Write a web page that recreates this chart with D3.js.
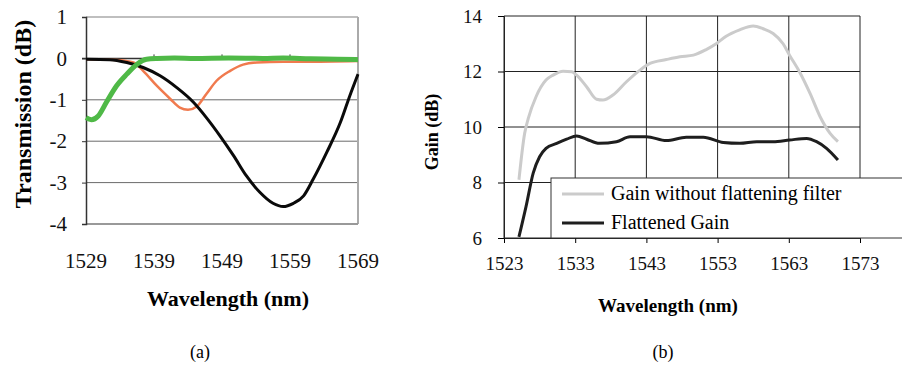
<html>
<head>
<meta charset="utf-8">
<script src="https://d3js.org/d3.v7.min.js"></script>
<style>
 body {margin:0; background:#fff;}
</style>
</head>
<body>
<svg id="chart" width="902" height="367"></svg>
<script>
// ---- panel (a) data : transmission spectra
var aTicksX = [1529, 1539, 1549, 1559, 1569];
var aTicksY = [1, 0, -1, -2, -3, -4];
var greenWl = [1529, 1529.8, 1530.8, 1532, 1533.5, 1535, 1536.5, 1537.9, 1539.4, 1542, 1545, 1550, 1555, 1558, 1562, 1566, 1569];
var greenDb = [-1.43, -1.48, -1.39, -1.06, -0.66, -0.38, -0.14, -0.02, 0.0, 0.01, 0.0, 0.01, 0.0, 0.01, -0.01, -0.02, -0.03];
var orangeWl = [1529, 1533.5, 1536, 1537.4, 1539.4, 1541.4, 1542.8, 1544.0, 1545.3, 1546.7, 1548.2, 1550.2, 1552.1, 1554.1, 1558, 1561, 1569];
var orangeDb = [-0.02, -0.04, -0.1, -0.3, -0.66, -0.98, -1.19, -1.24, -1.16, -0.86, -0.54, -0.3, -0.15, -0.1, -0.08, -0.08, -0.06];
var blackWl = [1529, 1532.5, 1535, 1537.4, 1539.9, 1542.3, 1544.8, 1546.7, 1548.7, 1550.7, 1552.6, 1554.6, 1556.5, 1558.0, 1559.5, 1561.0, 1562.4, 1564.4, 1566.4, 1567.8, 1569.0];
var blackDb = [-0.02, -0.03, -0.1, -0.22, -0.42, -0.70, -1.06, -1.43, -1.87, -2.35, -2.84, -3.24, -3.5, -3.58, -3.5, -3.32, -2.92, -2.27, -1.55, -0.9, -0.38];

// ---- panel (b) data : gain spectra
var bTicksX = [1523, 1533, 1543, 1553, 1563, 1573];
var bTicksY = [6, 8, 10, 12, 14];
var rawWl = [1525.1, 1525.9, 1526.4, 1527.5, 1528.9, 1529.9, 1531.3, 1532.5, 1533.2, 1534.6, 1536.0, 1536.9, 1538.3, 1540.2, 1542.1, 1543.5, 1545.8, 1547.7, 1549.6, 1551.4, 1552.8, 1554.2, 1556.1, 1558.0, 1559.4, 1560.8, 1562.2, 1563.1, 1564.5, 1566.0, 1567.4, 1568.8, 1569.9];
var rawGain = [8.1, 9.77, 10.3, 11.09, 11.69, 11.87, 12.01, 11.99, 11.87, 11.45, 11.0, 10.97, 11.15, 11.63, 12.05, 12.29, 12.43, 12.53, 12.59, 12.79, 13.0, 13.27, 13.5, 13.64, 13.54, 13.37, 13.0, 12.59, 11.99, 11.2, 10.37, 9.77, 9.47];
var flatWl = [1525.1, 1526.1, 1527.1, 1528.0, 1528.9, 1530.4, 1531.8, 1533.2, 1534.6, 1536.4, 1538.8, 1540.7, 1543.0, 1545.8, 1548.6, 1551.0, 1553.8, 1556.1, 1558.5, 1560.8, 1563.1, 1565.5, 1566.9, 1568.3, 1569.9];
var flatGain = [6.04, 7.14, 8.34, 8.93, 9.23, 9.41, 9.56, 9.68, 9.56, 9.41, 9.47, 9.65, 9.65, 9.51, 9.63, 9.63, 9.44, 9.41, 9.47, 9.47, 9.53, 9.59, 9.47, 9.23, 8.81];
var legendNames = ["Gain without flattening filter", "Flattened Gain"];

var serif = "'Liberation Serif', 'Times New Roman', serif";
var svg = d3.select("#chart");
function pairs(xs, ys) { return xs.map(function(x, i) { return [x, ys[i]]; }); }
function label(d) { return String(d); }   // plain hyphen for negatives, like the source

// ================= panel (a)
var ax = d3.scaleLinear().domain([1529, 1569]).range([86, 358]);
var ay = d3.scaleLinear().domain([-4, 1]).range([224, 17]);
var pa = svg.append("g");

pa.selectAll(".grid").data([-1, -2, -3]).enter().append("line")
  .attr("x1", ax(1529)).attr("x2", ax(1569))
  .attr("y1", function(d) { return ay(d); }).attr("y2", function(d) { return ay(d); })
  .attr("stroke", "#6a6a6a").attr("stroke-width", 1);
// plot area frame
pa.append("line").attr("x1", ax(1529)).attr("x2", ax(1569)).attr("y1", ay(1)).attr("y2", ay(1)).attr("stroke", "#aaa").attr("stroke-width", 1.5);
pa.append("line").attr("x1", ax(1569)).attr("x2", ax(1569)).attr("y1", ay(1)).attr("y2", ay(-4)).attr("stroke", "#aaa").attr("stroke-width", 2);
pa.append("line").attr("x1", ax(1529)).attr("x2", ax(1569)).attr("y1", ay(-4)).attr("y2", ay(-4)).attr("stroke", "#999").attr("stroke-width", 2);

// y axis
var ayAxis = pa.append("g").attr("transform", "translate(" + ax(1529) + ",0)")
  .call(d3.axisLeft(ay).tickValues(aTicksY).tickSize(4).tickPadding(15).tickFormat(label));
ayAxis.select(".domain").attr("stroke", "#333").attr("stroke-width", 1.5);
ayAxis.selectAll(".tick line").attr("stroke", "#333");
ayAxis.selectAll("text").style("font-family", serif).style("font-size", "21px").attr("fill", "#111");

// x axis line sits at 0, labels at bottom
pa.append("line").attr("x1", ax(1529) - 4).attr("x2", ax(1569)).attr("y1", ay(0)).attr("y2", ay(0)).attr("stroke", "#333").attr("stroke-width", 1.5);
pa.selectAll(".xt").data(aTicksX.slice(1, 4)).enter().append("line")
  .attr("x1", function(d) { return ax(d); }).attr("x2", function(d) { return ax(d); })
  .attr("y1", ay(0)).attr("y2", ay(0) - 4).attr("stroke", "#333");
pa.selectAll(".xl").data(aTicksX).enter().append("text")
  .attr("x", function(d) { return ax(d); }).attr("y", 268)
  .attr("text-anchor", "middle").style("font-family", serif).style("font-size", "21px").attr("fill", "#111")
  .text(label);

var lineA = d3.line().x(function(d) { return ax(d[0]); }).y(function(d) { return ay(d[1]); }).curve(d3.curveMonotoneX);
pa.append("path").datum(pairs(orangeWl, orangeDb)).attr("d", lineA)
  .attr("fill", "none").attr("stroke", "#f07a4e").attr("stroke-width", 2.5);
pa.append("path").datum(pairs(blackWl, blackDb)).attr("d", lineA)
  .attr("fill", "none").attr("stroke", "#0a0a0a").attr("stroke-width", 3);
pa.append("path").datum(pairs(greenWl, greenDb)).attr("d", lineA)
  .attr("fill", "none").attr("stroke", "#4fb947").attr("stroke-width", 5);

svg.append("text").attr("transform", "translate(31,114) rotate(-90)")
  .attr("text-anchor", "middle").style("font-family", serif).style("font-size", "24px").style("font-weight", "bold")
  .text("Transmission (dB)");
svg.append("text").attr("x", 228).attr("y", 306)
  .attr("text-anchor", "middle").style("font-family", serif).style("font-size", "22px").style("font-weight", "bold")
  .text("Wavelength (nm)");
svg.append("text").attr("x", 200).attr("y", 358)
  .attr("text-anchor", "middle").style("font-family", serif).style("font-size", "18px").text("(a)");

// ================= panel (b)
var bx = d3.scaleLinear().domain([1523, 1573]).range([504, 860]);
var by = d3.scaleLinear().domain([6, 14]).range([238, 16]);
var pb = svg.append("g");

pb.selectAll(".gy").data(bTicksY).enter().append("line")
  .attr("x1", bx(1523)).attr("x2", bx(1573))
  .attr("y1", function(d) { return by(d); }).attr("y2", function(d) { return by(d); })
  .attr("stroke", "#222").attr("stroke-width", 1);
pb.selectAll(".gx").data(bTicksX).enter().append("line")
  .attr("x1", function(d) { return bx(d); }).attr("x2", function(d) { return bx(d); })
  .attr("y1", by(14)).attr("y2", by(6))
  .attr("stroke", "#222").attr("stroke-width", 1);

var bxAxis = pb.append("g").attr("transform", "translate(0," + by(6) + ")")
  .call(d3.axisBottom(bx).tickValues(bTicksX).tickSize(5).tickPadding(14).tickFormat(label));
bxAxis.select(".domain").attr("stroke", "#222");
bxAxis.selectAll("text").style("font-family", serif).style("font-size", "19px").attr("fill", "#111");
var byAxis = pb.append("g").attr("transform", "translate(" + bx(1523) + ",0)")
  .call(d3.axisLeft(by).tickValues(bTicksY).tickSize(6).tickPadding(16).tickFormat(label));
byAxis.select(".domain").attr("stroke", "#222");
byAxis.selectAll("text").style("font-family", serif).style("font-size", "19px").attr("fill", "#111");

var lineB = d3.line().x(function(d) { return bx(d[0]); }).y(function(d) { return by(d[1]); }).curve(d3.curveMonotoneX);
pb.append("path").datum(pairs(rawWl, rawGain)).attr("d", lineB)
  .attr("fill", "none").attr("stroke", "#cbcbcb").attr("stroke-width", 3);
pb.append("path").datum(pairs(flatWl, flatGain)).attr("d", lineB)
  .attr("fill", "none").attr("stroke", "#1e1e1e").attr("stroke-width", 3);

// legend box, running off the right edge
var lg = pb.append("g");
lg.append("rect").attr("x", 551).attr("y", 178).attr("width", 380).attr("height", 60)
  .attr("fill", "#fff").attr("stroke", "#333").attr("stroke-width", 1);
var legColors = ["#cbcbcb", "#1e1e1e"];
legendNames.forEach(function(name, i) {
  var yy = 194 + i * 29;
  lg.append("line").attr("x1", 562).attr("x2", 604).attr("y1", yy).attr("y2", yy)
    .attr("stroke", legColors[i]).attr("stroke-width", 3);
  lg.append("text").attr("x", 611).attr("y", yy + 6).style("font-family", serif).style("font-size", "20px").text(name);
});

svg.append("text").attr("transform", "translate(438,132) rotate(-90)")
  .attr("text-anchor", "middle").style("font-family", serif).style("font-size", "18px").style("font-weight", "bold")
  .text("Gain (dB)");
svg.append("text").attr("x", 668).attr("y", 312)
  .attr("text-anchor", "middle").style("font-family", serif).style("font-size", "19px").style("font-weight", "bold")
  .text("Wavelength (nm)");
svg.append("text").attr("x", 663).attr("y", 358)
  .attr("text-anchor", "middle").style("font-family", serif).style("font-size", "18px").text("(b)");
</script>
</body>
</html>
